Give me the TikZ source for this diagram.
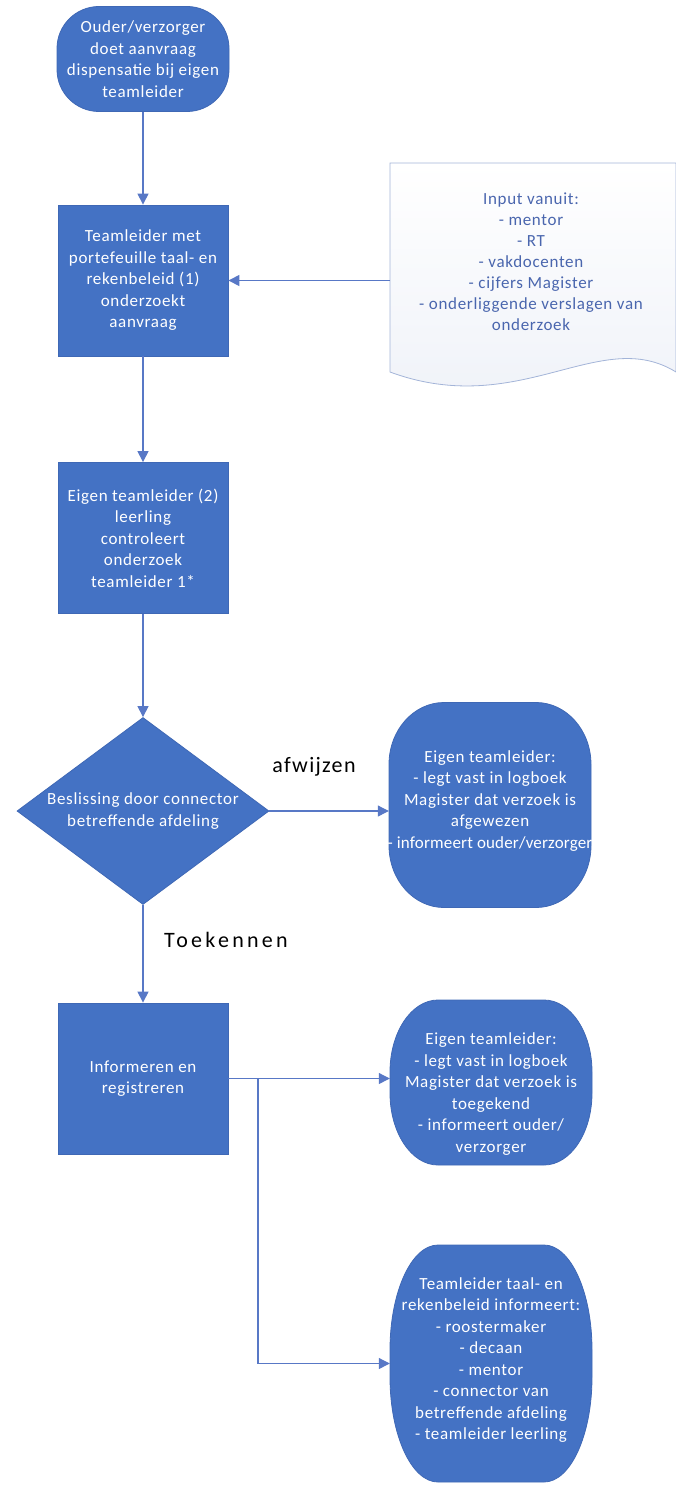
\documentclass[tikz,border=0pt]{standalone}
\usepackage{fontspec}
\setmainfont{Carlito}
\usetikzlibrary{shapes.geometric,arrows.meta}
\definecolor{boxblue}{HTML}{4472C4}
\definecolor{edgeblue}{HTML}{3F68B5}
\definecolor{lineblue}{HTML}{5878C6}
\definecolor{docedge}{HTML}{A3B4D8}
\definecolor{doctext}{HTML}{4A66AE}
\newcommand{\ovalshape}[6]{% cx cy w h rx ry
  \path[draw=edgeblue, line width=0.8pt, fill=boxblue]
  ({#1-#3/2+#5},{#2-#4/2}) -- ({#1+#3/2-#5},{#2-#4/2})
  arc[start angle=-90,end angle=0,x radius=#5,y radius=#6]
  -- ({#1+#3/2},{#2+#4/2-#6})
  arc[start angle=0,end angle=90,x radius=#5,y radius=#6]
  -- ({#1-#3/2+#5},{#2+#4/2})
  arc[start angle=90,end angle=180,x radius=#5,y radius=#6]
  -- ({#1-#3/2},{#2-#4/2+#6})
  arc[start angle=180,end angle=270,x radius=#5,y radius=#6]
  -- cycle;}
\begin{document}
\begin{tikzpicture}[x=1pt,y=-1pt,
  box/.style={draw=edgeblue, line width=0.8pt, fill=boxblue, text=white,
    font=\fontsize{17}{21.5}\selectfont\addfontfeatures{LetterSpace=4}, align=center, inner sep=0pt},
  txt/.style={text=white, font=\fontsize{17}{21.5}\selectfont\addfontfeatures{LetterSpace=4}, align=center, inner sep=0pt},
  frame/.style={inner sep=0pt},
  conn/.style={draw=lineblue, line width=1.1pt, -{Triangle[length=11pt,width=11pt]}},
  lab/.style={font=\fontsize{22}{26}\selectfont\addfontfeatures{LetterSpace=6}, text=black, inner sep=0pt}]
\useasboundingbox (0,0) rectangle (675,1485);

% left column
\node[box, minimum width=172pt, minimum height=105pt, rounded corners=42pt] (start) at (143,59)
  {Ouder/verzorger\\doet aanvraag\\dispensatie bij eigen\\teamleider};
\node[box, minimum width=170pt, minimum height=151pt] (r2) at (143,280.5)
  {Teamleider met\\portefeuille taal- en\\rekenbeleid (1)\\onderzoekt\\aanvraag};
\node[box, minimum width=170pt, minimum height=151pt] (r3) at (143,538)
  {Eigen teamleider (2)\\leerling\\controleert\\onderzoek\\teamleider 1*};
\node[box, diamond, aspect=1.35, minimum width=252pt, minimum height=187pt] (dec) at (143,811)
  {Beslissing door connector\\betreffende afdeling};
\node[box, minimum width=170pt, minimum height=151pt] (r4) at (143,1078.5)
  {Informeren en\\registreren};

% right column (oval boxes)
\ovalshape{490}{805}{202}{205}{55}{62}
\node[frame, minimum width=202pt, minimum height=205pt] (rej) at (490,805) {};
\node[txt] (rejT) at (490,801)
  {Eigen teamleider:\\- legt vast in logboek\\Magister dat verzoek is\\afgewezen\\{\addfontfeatures{LetterSpace=1}- informeert ouder/verzorger}};

\ovalshape{491}{1082.5}{202}{165}{48}{72}
\node[frame, minimum width=202pt, minimum height=165pt] (acc) at (491,1082.5) {};
\node[txt] (accT) at (491,1094)
  {Eigen teamleider:\\- legt vast in logboek\\Magister dat verzoek is\\toegekend\\- informeert ouder/\\verzorger};

\ovalshape{491}{1363.5}{202}{237}{48}{105}
\node[frame, minimum width=202pt, minimum height=237pt] (inf) at (491,1363.5) {};
\node[txt] (infT) at (491,1360)
  {Teamleider taal- en\\rekenbeleid informeert:\\- roostermaker\\- decaan\\- mentor\\- connector van\\betreffende afdeling\\- teamleider leerling};

% document shape
\path[draw=docedge, line width=0.8pt, top color=white, bottom color=docedge!18]
  (390,163) -- (676,163) -- (676,372)
  .. controls (600,325) and (520,420) .. (390,372) -- cycle;
\node[text=doctext, font=\fontsize{17}{21}\selectfont\addfontfeatures{LetterSpace=4}, align=center, inner sep=0pt] (doc) at (531,262)
  {Input vanuit:\\- mentor\\- RT\\- vakdocenten\\- cijfers Magister\\- onderliggende verslagen van\\onderzoek};
\coordinate (docin) at (390,280.5);

% labels
\node[lab] (afw) at (314,767) {afwijzen};
\node[lab, font=\fontsize{22}{26}\selectfont\addfontfeatures{LetterSpace=15}] (toe) at (226,940) {Toekennen};

% connectors
\draw[conn] (start.south) -- (r2.north);
\draw[conn] (docin) -- (r2.east);
\draw[conn] (r2) -- (r3);
\draw[conn] (r3) -- (dec.north);
\draw[conn] (dec.east) -- (dec.east -| rej.west);
\draw[conn] (dec.south) -- (r4);
\draw[conn] (r4.east) -- (r4.east -| acc.west);
\coordinate (br) at (258,1078.5);
\draw[conn] (br) |- (inf.west);
\end{tikzpicture}
\end{document}
